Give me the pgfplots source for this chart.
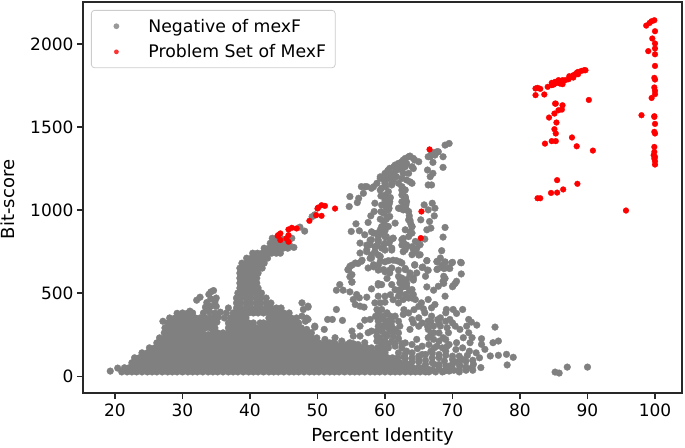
\documentclass[border=0pt]{standalone}
\usepackage{pgfplots}
\pgfplotsset{compat=1.18}
\usepackage{fontspec}
\setmainfont{DejaVu Sans}
\definecolor{gr}{RGB}{128,128,128}
\definecolor{spine}{RGB}{40,40,40}
\begin{document}
\begin{tikzpicture}[x=1pt,y=1pt]
\useasboundingbox (-83,-54) rectangle (602,393);
\begin{axis}[
  at={(0pt,0pt)},anchor=south west,
  scale only axis,width=599pt,height=391pt,
  xmin=15.26,xmax=104,ymin=-102,ymax=2253,
  xtick={20,30,40,50,60,70,80,90,100},
  ytick={0,500,1000,1500,2000},
  tick align=outside,tick style={spine,line width=1.1pt},
  major tick length=6pt,
  xtick pos=bottom,ytick pos=left,
  axis line style={spine,line width=1.2pt},
  /pgf/number format/assume math mode=true,
  /pgf/number format/set thousands separator={},
  ticklabel style={font=\fontsize{17}{20}\selectfont,text=black},
  xticklabel style={yshift=-1pt},
  xlabel={Percent Identity},ylabel={Bit-score},
  label style={font=\fontsize{18}{20}\selectfont,text=black},
  xlabel style={at={(axis description cs:0.5,0)},anchor=base,yshift=-48pt,xshift=0pt},
  ylabel style={at={(axis description cs:0,0.5)},anchor=base,rotate=0,yshift=68pt,xshift=-2pt},
  legend cell align=left,
  legend style={at={(8pt,383pt)},anchor=north west,
    font=\fontsize{17.3}{20}\selectfont,
    draw={rgb,1:red,.8;green,.8;blue,.8},rounded corners=3pt,fill=white,fill opacity=.8,text opacity=1,
    line width=.8pt,
    inner xsep=7pt,inner ysep=6.5pt,row sep=7pt,
    /tikz/every even column/.append style={column sep=9pt}},
]
\addplot[only marks,mark=*,mark size=3.4pt,color=gr,mark options={fill=gr,draw=gr,line width=.3pt},
  legend image code/.code={\path[draw=none,fill=none] (0,-4pt) rectangle (48pt,4pt);\fill[gr,draw=none] (18pt,0) circle (2.9pt);}] coordinates {
(19.3,30)(20.4,48)(27.1,330)
(21,25)(21.8,25)(22.5,25)(23.2,25)(24,25)(24.8,25)(25.5,25)(26.2,25)(27,25)(27.8,25)(28.5,25)(29.2,25)(30,25)(30.8,25)(31.5,25)(32.2,25)(33,25)(33.8,25)(34.5,25)(35.2,25)(36,25)(36.8,25)(37.5,25)(38.2,25)(39,25)(39.8,25)(40.5,25)(41.2,25)(42,25)(42.8,25)(43.5,25)(44.2,25)(45,25)(45.8,25)(46.5,25)(47.2,25)(48,25)(48.8,25)(49.5,25)(50.2,25)(51,25)(51.8,25)(52.5,25)(53.2,25)(54,25)(54.8,25)(55.5,25)(56.2,25)(57,25)(57.8,25)(58.5,25)(59.2,25)(60,25)(60.8,25)(61.5,25)(62.2,25)(63,25)(63.8,25)(64.5,25)(65.2,25)(66,25)
(21.4,50)(22.1,50)(22.9,50)(23.6,50)(24.4,50)(25.1,50)(25.9,50)(26.6,50)(27.4,50)(28.1,50)(28.9,50)(29.6,50)(30.4,50)(31.1,50)(31.9,50)(32.6,50)(33.4,50)(34.1,50)(34.9,50)(35.6,50)(36.4,50)(37.1,50)(37.9,50)(38.6,50)(39.4,50)(40.1,50)(40.9,50)(41.6,50)(42.4,50)(43.1,50)(43.9,50)(44.6,50)(45.4,50)(46.1,50)(46.9,50)(47.6,50)(48.4,50)(49.1,50)(49.9,50)(50.6,50)(51.4,50)(52.1,50)(52.9,50)(53.6,50)(54.4,50)(55.1,50)(55.9,50)(56.6,50)(57.4,50)(58.1,50)(58.9,50)(59.6,50)(60.4,50)(61.1,50)(61.9,50)(62.6,50)(63.4,50)(64.1,50)(64.9,50)(65.6,50)
(22.5,80)(23.2,80)(24,80)(24.8,80)(25.5,80)(26.2,80)(27,80)(27.8,80)(28.5,80)(29.2,80)(30,80)(30.8,80)(31.5,80)(32.2,80)(33,80)(33.8,80)(34.5,80)(35.2,80)(36,80)(36.8,80)(37.5,80)(38.2,80)(39,80)(39.8,80)(40.5,80)(41.2,80)(42,80)(42.8,80)(43.5,80)(44.2,80)(45,80)(45.8,80)(46.5,80)(47.2,80)(48,80)(48.8,80)(49.5,80)(50.2,80)(51,80)(51.8,80)(52.5,80)(53.2,80)(54,80)(54.8,80)(55.5,80)(56.2,80)(57,80)(57.8,80)(58.5,80)(59.2,80)(60,80)(60.8,80)(61.5,80)(62.2,80)(63,80)
(22.9,110)(23.6,110)(24.4,110)(25.1,110)(25.9,110)(26.6,110)(27.4,110)(28.1,110)(28.9,110)(29.6,110)(30.4,110)(31.1,110)(31.9,110)(32.6,110)(33.4,110)(34.1,110)(34.9,110)(35.6,110)(36.4,110)(37.1,110)(37.9,110)(38.6,110)(39.4,110)(40.1,110)(40.9,110)(41.6,110)(42.4,110)(43.1,110)(43.9,110)(44.6,110)(45.4,110)(46.1,110)(46.9,110)(47.6,110)(48.4,110)(49.1,110)(49.9,110)(50.6,110)(51.4,110)(52.1,110)(52.9,110)(53.6,110)(54.4,110)(55.1,110)(55.9,110)(56.6,110)(57.4,110)(58.1,110)(58.9,110)(59.6,110)(60.4,110)(61.1,110)(61.9,110)
(24,140)(24.8,140)(25.5,140)(26.2,140)(27,140)(27.8,140)(28.5,140)(29.2,140)(30,140)(30.8,140)(31.5,140)(32.2,140)(33,140)(33.8,140)(34.5,140)(35.2,140)(36,140)(36.8,140)(37.5,140)(38.2,140)(39,140)(39.8,140)(40.5,140)(41.2,140)(42,140)(42.8,140)(43.5,140)(44.2,140)(45,140)(45.8,140)(46.5,140)(47.2,140)(48,140)(48.8,140)(49.5,140)(50.2,140)(51,140)(51.8,140)(52.5,140)(53.2,140)(54,140)(54.8,140)(55.5,140)(56.2,140)(57,140)(57.8,140)(58.5,140)(59.2,140)(60,140)
(25.1,170)(25.9,170)(26.6,170)(27.4,170)(28.1,170)(28.9,170)(29.6,170)(30.4,170)(31.1,170)(31.9,170)(32.6,170)(33.4,170)(34.1,170)(34.9,170)(35.6,170)(36.4,170)(37.1,170)(37.9,170)(38.6,170)(39.4,170)(40.1,170)(40.9,170)(41.6,170)(42.4,170)(43.1,170)(43.9,170)(44.6,170)(45.4,170)(46.1,170)(46.9,170)(47.6,170)(48.4,170)(49.1,170)(49.9,170)(50.6,170)(51.4,170)(52.1,170)(52.9,170)(53.6,170)(54.4,170)(55.1,170)(55.9,170)
(26.2,200)(27,200)(27.8,200)(28.5,200)(29.2,200)(30,200)(30.8,200)(31.5,200)(32.2,200)(33,200)(33.8,200)(34.5,200)(35.2,200)(36,200)(36.8,200)(37.5,200)(38.2,200)(39,200)(39.8,200)(40.5,200)(41.2,200)(42,200)(42.8,200)(43.5,200)(44.2,200)(45,200)(45.8,200)(46.5,200)(47.2,200)(48,200)(48.8,200)(49.5,200)(50.2,200)(51,200)(51.8,200)
(26.6,230)(27.4,230)(28.1,230)(28.9,230)(29.6,230)(30.4,230)(31.1,230)(31.9,230)(32.6,230)(33.4,230)(34.1,230)(34.9,230)(35.6,230)(36.4,230)(37.1,230)(37.9,230)(38.6,230)(39.4,230)(40.1,230)(40.9,230)(41.6,230)(42.4,230)(43.1,230)(43.9,230)(44.6,230)(45.4,230)(46.1,230)(46.9,230)(47.6,230)(48.4,230)(49.1,230)(49.9,230)
(27.3,260)(28,260)(28.5,260)(29.2,260)(30,260)(30.8,260)(31.5,260)(32.2,260)(33,260)(33.8,250)(34.5,260)(35.2,260)(36,260)(36.8,260)(37.5,260)(38.2,260)(39,260)(39.8,260)(40.5,260)(41.2,260)(42,260)(42.8,260)(43.5,260)(44.2,260)(45,260)(45.8,260)(46.5,260)(47.2,260)(48,260)(48.6,260)
(27.4,290)(28.1,290)(28.9,290)(29.6,290)(30.4,290)(31.1,290)(31.9,290)(32.6,290)(33.4,290)(34.1,290)(34.8,290)(36.8,290)(37.1,290)(37.9,290)(38.6,290)(39.4,290)(40.1,290)(40.9,290)(41.6,290)(42.4,290)(43.1,290)(43.9,290)(44.6,290)(45.4,290)(46.1,290)(46.9,290)(47.6,290)(49.6,295)
(27.8,320)(28.5,320)(29.2,320)(30,320)(30.8,320)(31.5,320)(32.2,320)(33,320)(33.8,320)(34.5,320)(35.1,325)(36.8,320)(37.5,320)(38.2,320)(39,320)(39.8,320)(40.5,320)(41.5,320)(42,320)(42.8,320)(43.5,320)(44.2,320)(45,320)(45.8,320)(46.5,320)(47.2,320)(48.2,330)
(28.1,350)(28.9,350)(29.6,350)(30.4,350)(31.1,350)(31.9,350)(32.6,350)(33.4,350)(34.1,350)(34.7,350)(35.3,355)(36.2,350)(37.1,350)(37.9,350)(38.6,350)(39.4,350)(42.8,350)(43.1,350)(43.9,350)(44.6,350)(45.4,350)(46.1,350)(46.9,350)(48.4,349)
(29.2,378)(30,380)(30.8,380)(31.5,380)(33.1,380)(34,385)(34.8,380)(35.6,385)(36.5,380)(37.5,380)(38.2,380)(39,380)(39.8,380)(40.5,380)(41.2,380)(42,380)(42.8,380)(43.5,380)(44.2,380)(45,380)(45.8,380)
(31.1,391)(33.8,397)(33.4,415)(34.2,420)(35,420)(36.8,410)(38,410)(38.6,410)(39.4,410)(40.1,410)(40.9,410)(41.6,410)(42.4,410)(43.1,410)(43.9,410)(44.6,410)(48.6,415)
(32.1,457)(32.6,475)(34.2,507)(34.6,515)(33.9,492)(34.8,447)(33.6,443)(34.2,465)(35,470)
(38,440)(38.6,440)(39.4,440)(40.1,440)(40.9,440)(41.6,440)(42.4,440)(43.1,440)
(38,470)(38.6,470)(39.4,470)(40.1,470)(40.9,470)(41.6,470)(42.4,470)
(38.2,500)(38.9,500)(39.6,500)(40.3,500)(41,500)(41.7,500)
(38.5,530)(39.2,530)(39.9,530)(40.6,530)(41.2,530)
(38.5,560)(39.1,560)(39.8,560)(40.5,560)(41,560)
(38.5,590)(39.2,590)(39.9,590)(40.6,590)(41,590)
(38.5,620)(39.1,620)(39.8,620)(40.5,620)(41.2,620)
(38.5,650)(39.2,650)(39.9,650)(40.6,650)(41.3,650)(41.8,650)
(38.8,680)(39.5,680)(40.2,680)(40.9,680)(41.6,680)(42.1,680)
(39.5,710)(40.2,710)(40.9,710)(41.6,710)(42.3,710)(42.6,710)
(40.4,740)(41.1,740)(41.8,740)(42.5,740)(43.2,740)(43.9,740)(44.5,740)
(42.1,770)(42.8,770)(43.5,770)(44.2,770)(44.9,770)(45.6,770)(46.5,775)
(43,800)(43.7,800)(44.4,800)(45.1,800)(45.8,795)(43.3,830)(44,830)(44.7,825)(45.4,825)(46.2,830)(47.4,897)(48.1,873)(49.6,969)(49.6,971)(49.2,960)
(68.9,1391)(69.5,1401)(66.9,1341)(67.7,1351)(66.4,1321)(67.4,1331)(68.6,1321)(67.1,1287)(68.6,1257)(66.3,1241)(67.1,1221)(66.7,1201)(66.4,1151)(66.9,1151)(67.2,1345)(67.9,1351)(66.7,1321)
(63.7,1325)(62.7,1301)(64.2,1311)(65,1291)(62,1281)(63.2,1281)(64,1261)(60.7,1251)(61.7,1251)(62.5,1241)(60,1221)(61.2,1221)(59.3,1191)(60.5,1191)(61.7,1201)(63.2,1181)(64,1161)(58.8,1161)(60,1161)(61,1151)(59.5,1131)(60.5,1111)(56.5,1141)(57.3,1141)(58,1131)(56.8,1101)(56.1,1071)(54.8,1081)(54.7,1021)(55.9,1045)(62.5,1141)(63,1121)(62.5,1091)(63,1071)(63.1,1031)
(63,1311)(62.3,1271)(61.3,1261)(60.4,1236)(60.8,1206)(59.9,1181)(61.2,1181)(60.1,1141)(62,1161)(63.5,1221)
(63.5,1321)(62.5,1291)(64.4,1301)(61.5,1271)(63,1261)(64.2,1250)(60.5,1240)(61.7,1240)(62.7,1220)(59.3,1200)(60.3,1200)(61.5,1200)(62.5,1190)(63.7,1170)(60,1170)(61,1160)(58.3,1140)(57,1140)(59.3,1120)(60,1090)(60.5,1050)(62.5,1120)(63,1070)(62.5,1050)(63,1020)(59.8,1030)(60.6,1010)
(60,1061)(60.3,1031)(60.5,1001)(59.8,981)(60.7,961)(59.8,931)(60.5,901)(59.3,881)(59.8,861)(58.5,1041)(58.4,991)(57.9,965)(57.5,925)(55.7,917)(55,871)(56.2,875)(57,851)(58.3,861)(59,841)(58,821)(56.3,801)(57.8,791)(57.3,761)(56.3,741)(58.5,751)(58,711)(59.3,721)(59.5,771)(61,771)(60.6,801)(61.2,831)
(60.2,1015)(60.7,1050)(59.9,1080)(60.2,945)(60,875)(58.8,785)(60,800)(59,810)(60.2,840)
(59.4,1085)(60.8,1075)(59.5,1030)(60.6,1035)(59.4,990)(60.4,960)(59.3,945)(60.2,905)(59.5,900)
(58.8,859)(58,869)(59.5,859)(57.8,819)(59,819)(60,839)(57.3,789)(58.5,779)(59.8,789)(60.8,819)(61.2,829)(57.3,749)(58,729)(59,729)(60,759)(61,759)(57.8,709)
(62,1011)(62.7,1001)(63.5,991)(61.5,921)(63.5,941)(64,901)(63,881)(64,861)(62.5,821)(64.5,811)(63.2,781)(65.2,791)(64.2,761)(63,761)(65.2,731)(64,731)(63.6,965)(63.8,920)(63.5,840)(62.8,800)
(62.2,1010)(63.2,1000)(62.7,1020)(63.7,939)(64,899)(63.7,869)(62.7,829)(62.5,789)(63.2,789)(62.7,749)(64,779)(64.7,769)(65,799)(64.5,749)(65,729)(63,1080)(62.7,1110)(63.2,1050)
(65.8,1031)(67,1041)(66.4,1001)(67.4,1011)(67.3,965)(65.3,941)(66.6,931)(66.2,881)(66.8,891)(68.9,895)(68.6,837)(65.9,825)(68.4,755)(66.2,695)(68.2,711)(67.7,691)(68.9,685)(70,685)(71.2,685)(68.6,651)(69.4,651)(67.8,645)(71.3,615)(68.7,601)(68.6,571)(70.6,571)(70.1,545)(67.9,541)(67.2,517)(66.2,537)(68.9,481)(65.6,657)(66.4,637)(66,601)(64.4,671)(64.7,621)(64.2,591)
(54.8,661)(55.6,681)(56.5,691)(54.5,641)(55.1,611)(55.1,565)(57.5,651)(58.3,671)(59.3,691)(60.5,695)(61.7,695)(62.5,681)(63,641)(63.7,621)(59.8,641)(60.7,621)(61,651)(62,601)(63.2,581)(62.2,561)(63.2,541)(64,521)(62.2,521)(63,491)(64.2,491)(64.5,461)(62.7,461)(62,481)(61,551)(59,557)(59.5,551)(58,525)(63,540)(62.5,590)(62.8,560)(63.6,510)
(54.6,638)(55.1,668)(56,678)(56.6,698)(54.8,598)(55.1,568)(58.3,658)(59,668)(60,688)(61.2,698)(62.2,688)(63,648)(63.7,608)(64.2,578)(59,638)(60,628)(60.7,638)(62,638)(60.3,588)(62.2,588)(63.2,558)(62.7,538)(59,548)
(53.3,551)(52.8,517)(53.8,517)(54.8,507)(55.8,491)(56.2,471)(55.3,461)(55.6,431)(56.3,421)(57.3,475)(56.9,415)
(59,481)(58.5,441)(59.3,441)(60,481)(58.8,401)(59.5,401)(59.8,361)(59,331)(60.3,381)(60.5,331)(59.5,301)(60.5,291)(61.5,361)(62.7,371)(64,341)(65,351)(65.9,381)(66.4,461)(65.4,441)(67.4,431)(66.9,411)(69.1,401)(70.1,401)(71.5,401)(69,381)(70.6,377)(66.9,361)(68.2,351)(69.6,341)(72.4,341)(72.8,325)(73.6,307)(72.1,301)(76.3,295)(66.4,331)(67.2,301)(68.2,301)(69.2,291)(70.4,301)(71.1,281)(66.4,281)(67.2,261)(66.4,231)(67.2,221)(69.4,261)(68.6,231)(72.4,261)(71.6,231)(72.9,231)(70.6,201)(72.6,201)(74.3,225)(74.3,191)(74.8,161)(76,201)(76.8,211)(75.6,121)(76.8,125)(78,131)(79,113)(78.1,67)(74.2,51)(72.9,51)(73.1,71)(71.1,61)
(64.7,221)(63.7,281)(62.2,301)(60.3,241)(59.3,281)(58.8,241)(57.8,341)(57,337)(58,271)(56.3,301)(57.5,261)(55.1,271)(55.3,241)(56.3,241)(57,201)(55.8,181)(53.7,335)(52.2,341)(51.5,341)(52.8,401)(48.6,421)(47.7,441)(47.9,401)(47.7,361)(48.6,341)(49.6,301)(48.4,281)(49.1,261)(51,281)(51.1,221)(52.6,231)(53.6,211)(52.3,201)(54.8,201)
(66.5,40)(67.3,70)(68,45)(68.8,90)(69.5,60)(70.2,35)(70.8,85)(71.5,100)(72.2,125)(73,95)(74,110)(67,110)(68,130)(69,150)(70,120)(66,95)(66.8,150)(65.5,130)(64.8,165)(64,110)(63.2,150)(62.5,170)(61.5,180)(60.5,170)(59.5,190)(58.8,210)(61,210)(62,225)(63,200)(65.5,180)
(59.3,230)(60,250)(60.7,270)(59.8,210)(61.2,240)(62,260)(60.2,320)(61,300)(59.8,340)(61,330)(67,35)(68.8,30)(71,40)(65,85)(63.8,75)(62.8,115)
(52.6,195)(53.5,190)(54.4,190)(55.3,195)(56,190)(56.5,170)(57.3,170)(58,170)(58.9,170)(59.6,170)(60.4,170)
(62,140)(63,135)(64,140)(65,120)(66,130)(67,140)(68,110)(69,125)(70,100)(71,120)(72,90)(66,70)(67,80)(68,70)(69,60)(70,70)(71,70)(72,55)(66.5,25)(67.5,25)(68.5,25)(69.5,30)(71,25)(72,35)(73,35)(64,85)(65,100)(63,105)
(61.5,200)(62.5,195)(64,190)(66.5,190)(67.7,180)(68.5,170)(69.5,190)(70.5,160)(71.5,170)(72.5,150)(73.5,140)
(67.3,170)(68,210)(66.8,250)(68,260)(69,220)(69.2,180)(66.3,300)(67.8,340)(68,320)(65,300)(64.2,320)(65.5,320)(66.8,330)(69,330)(70,320)(62.8,400)(63.5,380)(64.3,400)(65,420)(65.7,405)(61.2,460)(62,440)(63.5,470)(62.2,500)(64,470)(61.5,520)(60.8,490)(60,445)(59,380)(58.6,360)(59.2,360)(60,300)(60.8,360)(61.2,270)(62,330)(59.6,270)(59,300)(58.8,270)(60,210)(60.5,190)(61.5,280)
(64.4,668)(65.5,654)(66.2,695)(67.7,688)(68.9,688)(69.9,682)(71.3,682)(68.4,668)(69.6,648)(67.7,642)(68.8,648)(66.3,638)(68.9,588)(68.7,558)(70.4,558)(70,538)
(85.2,24)(85.8,18)(87,54)(90,54)
};
\addlegendentry{Negative of mexF}
\addplot[only marks,mark=*,mark size=2.9pt,color=red,mark options={fill=red,draw=red,line width=.3pt},
  legend image code/.code={\path[draw=none,fill=none] (0,-4pt) rectangle (48pt,4pt);\fill[red,draw=none] (18pt,0) circle (2.4pt);}] coordinates {
(99.9,2143)(99.5,2137)(99.2,2127)(98.7,2111)(100,2077)(99.6,2033)(100,2003)(100,1973)(99,1957)(100,1938)(100,1868)(99.9,1796)(100,1786)(99.9,1738)(100,1718)(100,1698)(99.5,1675)(98,1571)(99.9,1565)(99.9,1561)(100,1519)(99.9,1471)(100,1461)(99.9,1380)(99.9,1350)(99.8,1330)(100,1320)(99.9,1310)(100,1294)(100,1274)
(95.7,997)(88.5,1158)(85.5,1180)(86.4,1124)(85.5,1105)(84.6,1103)(82.6,1071)(83,1071)(90.8,1358)(88.4,1384)(87.7,1437)(85.3,1415)(84.7,1415)(83.7,1400)(85.3,1461)(85.1,1487)(85.4,1527)(84.3,1557)(85.1,1581)(85.7,1601)(86.2,1605)(86.3,1631)(85.2,1641)(85.3,1641)(90.2,1663)
(82.3,1692)(83.6,1696)(82.3,1732)(82.6,1736)(83,1730)(84.1,1742)(84.7,1752)(85.2,1762)(85,1756)(85.4,1768)(85.8,1778)(85.9,1762)(86.3,1782)(86.3,1758)(86.7,1782)(87.2,1788)(87.3,1806)(87.7,1802)(87.9,1812)(88.2,1818)(88.6,1832)(88.6,1818)(88.4,1826)(89.5,1842)(89.7,1842)(89.1,1838)(84.7,1766)(85.2,1772)(85.7,1782)(87.9,1798)
(44.2,849)(44.5,859)(44.1,845)(44.5,819)(45.7,809)(45.4,829)(45.7,849)(45.7,883)(46.2,893)(46.9,889)(48.8,935)(49.8,969)(50.6,965)(50.1,1015)(50.6,1029)(51.1,1025)(50,1009)(52.6,1009)(66.6,1365)(65.4,991)(65.3,831)
};
\addlegendentry{Problem Set of MexF\hspace{5pt}}
\end{axis}
\end{tikzpicture}
\end{document}
